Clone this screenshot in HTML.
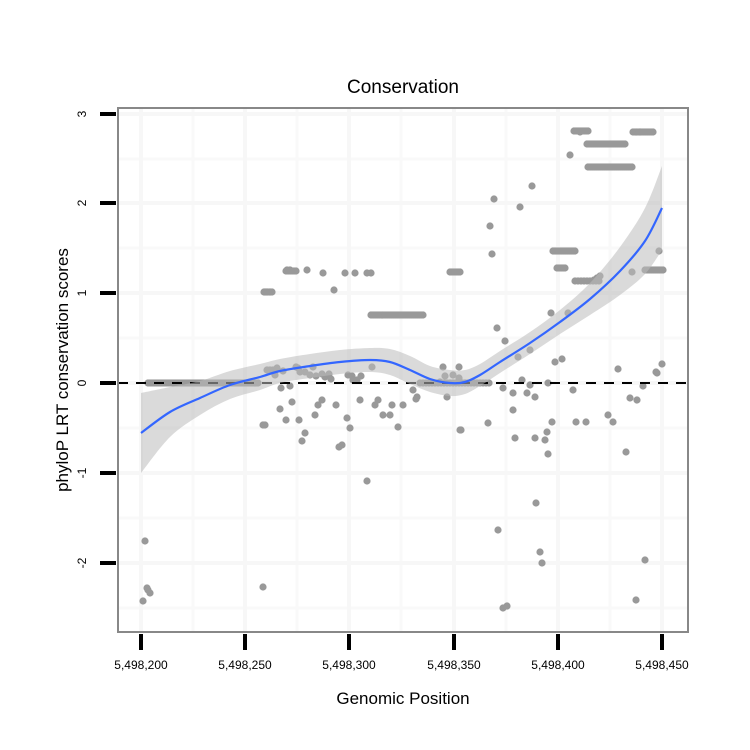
<!DOCTYPE html>
<html><head><meta charset="utf-8"><style>body{margin:0;background:#fff}svg{display:block}text{font-family:"Liberation Sans",sans-serif}</style></head>
<body>
<svg id="s" width="750" height="750" xmlns="http://www.w3.org/2000/svg">
<rect x="118" y="108" width="570" height="524" fill="#fff"/>
<g stroke="#f9f9f9" stroke-width="3">
<line x1="193" y1="108" x2="193" y2="632"/><line x1="297" y1="108" x2="297" y2="632"/><line x1="401" y1="108" x2="401" y2="632"/><line x1="506" y1="108" x2="506" y2="632"/><line x1="610" y1="108" x2="610" y2="632"/>
<line x1="118" y1="159" x2="688" y2="159"/><line x1="118" y1="248" x2="688" y2="248"/><line x1="118" y1="338" x2="688" y2="338"/><line x1="118" y1="428" x2="688" y2="428"/><line x1="118" y1="518" x2="688" y2="518"/><line x1="118" y1="608" x2="688" y2="608"/>
</g>
<g stroke="#f7f7f7" stroke-width="4">
<line x1="141" y1="108" x2="141" y2="632"/><line x1="245" y1="108" x2="245" y2="632"/><line x1="349" y1="108" x2="349" y2="632"/><line x1="454" y1="108" x2="454" y2="632"/><line x1="558" y1="108" x2="558" y2="632"/><line x1="662" y1="108" x2="662" y2="632"/>
<line x1="118" y1="114" x2="688" y2="114"/><line x1="118" y1="203" x2="688" y2="203"/><line x1="118" y1="293" x2="688" y2="293"/><line x1="118" y1="383" x2="688" y2="383"/><line x1="118" y1="473" x2="688" y2="473"/><line x1="118" y1="563" x2="688" y2="563"/>
</g>
<g id="pts" fill="#999"></g>
<line x1="118" y1="383" x2="688" y2="383" stroke="#000" stroke-width="2" stroke-dasharray="10,8"/>
<path id="band" fill="#bbb" fill-opacity="0.55"/>
<path id="curve" fill="none" stroke="#3366ff" stroke-width="2.2"/>
<rect x="118" y="108" width="570" height="524" fill="none" stroke="#888" stroke-width="2"/>
<g stroke="#000" stroke-width="4">
<line x1="100" y1="114" x2="116" y2="114"/><line x1="100" y1="203" x2="116" y2="203"/><line x1="100" y1="293" x2="116" y2="293"/><line x1="100" y1="383" x2="116" y2="383"/><line x1="100" y1="473" x2="116" y2="473"/><line x1="100" y1="563" x2="116" y2="563"/>
<line x1="141" y1="634" x2="141" y2="650"/><line x1="245" y1="634" x2="245" y2="650"/><line x1="349" y1="634" x2="349" y2="650"/><line x1="454" y1="634" x2="454" y2="650"/><line x1="558" y1="634" x2="558" y2="650"/><line x1="662" y1="634" x2="662" y2="650"/>
</g>
<g font-size="12" text-anchor="middle">
<text x="141" y="669">5,498,200</text><text x="245" y="669">5,498,250</text><text x="349" y="669">5,498,300</text><text x="454" y="669">5,498,350</text><text x="558" y="669">5,498,400</text><text x="662" y="669">5,498,450</text>
</g>
<g font-size="12" text-anchor="middle">
<text transform="translate(86,114) rotate(-90)">3</text><text transform="translate(86,203) rotate(-90)">2</text><text transform="translate(86,293) rotate(-90)">1</text><text transform="translate(86,383) rotate(-90)">0</text><text transform="translate(86,473) rotate(-90)">-1</text><text transform="translate(86,563) rotate(-90)">-2</text>
</g>
<text x="403" y="93" font-size="19" text-anchor="middle">Conservation</text>
<text x="403" y="704" font-size="17" text-anchor="middle">Genomic Position</text>
<text transform="translate(68,370) rotate(-90)" font-size="17" text-anchor="middle">phyloP LRT conservation scores</text>
</svg>
<script>
var P=[[143,601],[145,541],[148,590],[150,593],[147,588],[263,587],[263,425],[267,292],[270,292],[265,292],[290,270],[287,270],[307,270],[323,273],[345,273],[355,273],[367,273],[371,273],[334,290],[267,370],[270,370],[273,370],[277,368],[283,371],[296,367],[305,372],[310,375],[316,376],[322,374],[325,377],[329,374],[331,379],[348,375],[352,376],[357,380],[361,376],[372,367],[313,367],[298,368],
[580,132],[640,132],[570,155],[532,186],[494,199],[520,207],[490,226],[659,251],[632,272],[618,369],[662,364],[656,372],[443,367],[459,367],[453,375],[413,390],[417,397],[503,388],[513,393],[527,393],[535,397],[522,380],[530,385],[548,383],[573,390],[643,386],[630,398],[551,313],[568,313],[497,328],[505,341],[530,350],[518,357],[555,362],[562,359],[597,278],[600,276],[594,280],
[461,430],[488,423],[498,530],[503,608],[507,606],[513,410],[515,438],[535,438],[536,503],[540,552],[542,563],[545,440],[547,432],[552,422],[548,454],[576,422],[586,422],[608,415],[613,422],[626,452],[636,600],[637,400],[645,560],[657,373],[492,254],
[265,425],[280,409],[286,420],[292,402],[299,420],[302,441],[305,433],[315,415],[318,405],[322,400],[336,405],[339,447],[342,445],[347,418],[350,428],[353,380],[360,400],[367,481],[375,405],[378,400],[383,415],[390,415],[392,405],[398,427],[403,405],[416,399],[440,382],[445,376],[447,397],[460,430],[459,378],[275,375],[300,372],[281,388],[290,386]];
function row(a,b,y,st){for(var x=a;x<=b;x+=st)P.push([x,y]);}
row(148,258,383,2);row(264,272,292,2);row(286,296,271,2);row(371,423,315,2);row(420,490,383,3);row(574,588,131,2);row(633,653,132,2);row(587,625,144,2);row(588,632,167,2);row(553,575,251,2);row(557,565,268,2);row(645,663,270,2);row(450,460,272,2);row(575,600,281,3);
var g=document.getElementById('pts'),s='';P.forEach(function(p){s+='<circle cx="'+p[0]+'" cy="'+p[1]+'" r="3.6"/>';});g.innerHTML=s;
var C=[[141,433,40],[170,412,25],[200,398,17],[230,385,14],[260,377,13],[280,371,12],[310,366,12],[340,362,12],[370,360,12],[390,362,13],[410,370,14],[430,379,13],[450,383,13],[465,382,12],[480,375,11],[500,362,11],[530,343,11],[560,322,12],[590,299,16],[620,271,24],[645,241,33],[662,208,42]];
function sm(pts){var d='M'+pts[0][0]+','+pts[0][1];for(var i=1;i<pts.length;i++){var p0=pts[Math.max(i-2,0)],p1=pts[i-1],p2=pts[i],p3=pts[Math.min(i+1,pts.length-1)];d+=' C'+(p1[0]+(p2[0]-p0[0])/6)+','+(p1[1]+(p2[1]-p0[1])/6)+' '+(p2[0]-(p3[0]-p1[0])/6)+','+(p2[1]-(p3[1]-p1[1])/6)+' '+p2[0]+','+p2[1];}return d;}
document.getElementById('curve').setAttribute('d',sm(C.map(function(c){return[c[0],c[1]]})));
var up=C.map(function(c){return[c[0],c[1]-c[2]]}),lo=C.map(function(c){return[c[0],c[1]+c[2]]}).reverse();
document.getElementById('band').setAttribute('d',sm(up)+' L'+lo[0][0]+','+lo[0][1]+sm(lo).replace(/^M[^ ]*/,'')+' Z');
</script>
</body></html>
